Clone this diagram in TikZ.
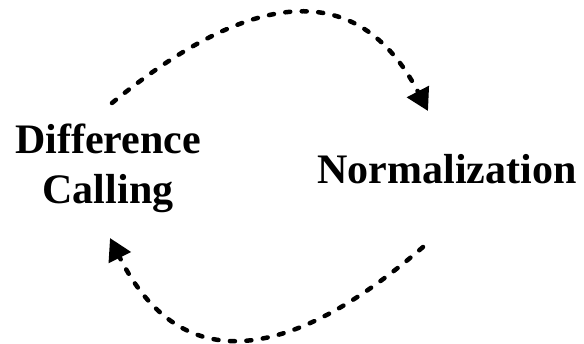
\documentclass[tikz,border=0pt]{standalone}
\usepackage{fontspec}
\setmainfont{Liberation Serif}
\usetikzlibrary{arrows.meta}
\tikzset{
  lbl/.style={font=\fontsize{42}{50}\selectfont\bfseries, inner sep=0pt, align=center},
  flow/.style={line width=4.5pt, line cap=round, dash pattern=on 5pt off 11.5pt,
    -{Triangle[length=22pt,width=24pt]}}
}
\begin{document}
\begin{tikzpicture}[x=1pt,y=-1pt]
\useasboundingbox (0,0) rectangle (584,343);
\node[lbl, anchor=base] (diff) at (108,203) {Difference\\Calling};
\node[lbl, anchor=base] (norm) at (447,183) {Normalization};
\coordinate (t1) at (112,103);
\coordinate (t2) at (428,111);
\coordinate (b1) at (423,247);
\coordinate (b2) at (110,238);
\draw[flow] (t1) .. controls (230.5,6) and (350.4,-38) .. (t2);
\draw[flow] (b1) .. controls (325,332) and (192.6,403.2) .. (b2);
\end{tikzpicture}
\end{document}
